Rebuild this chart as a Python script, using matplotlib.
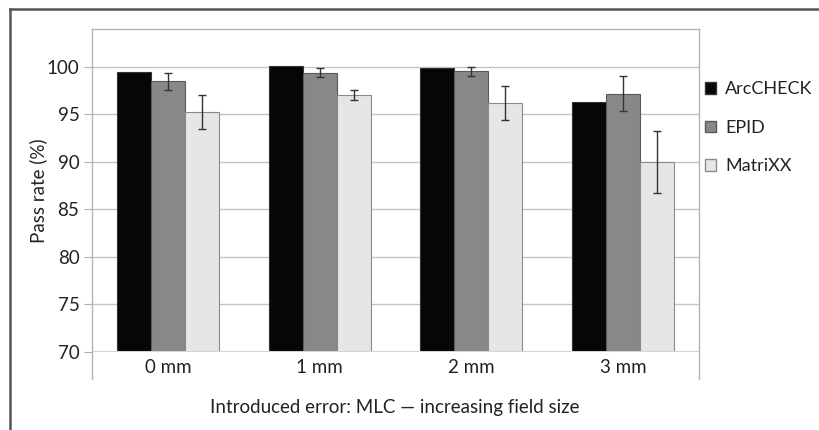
import numpy as np
import matplotlib.pyplot as plt
from matplotlib.lines import Line2D

plt.rcParams['font.family'] = ['Liberation Sans Narrow', 'Lato', 'DejaVu Sans']

# data
categories = ['0 mm', '1 mm', '2 mm', '3 mm']
series = ['ArcCHECK', 'EPID', 'MatriXX']
arccheck = [99.5, 100.1, 99.85, 96.3]
epid = [98.5, 99.4, 99.55, 97.2]
epid_err = [0.9, 0.5, 0.45, 1.8]
matrixx = [95.3, 97.05, 96.2, 90.0]
matrixx_err = [1.8, 0.55, 1.75, 3.3]
yticks = [70, 75, 80, 85, 90, 95, 100]

W, H = 819, 430
fig = plt.figure(figsize=(W / 100, H / 100), dpi=100)
ax = fig.add_axes([92 / W, 1 - 352 / H, (699 - 92) / W, (352 - 29) / H])

x = np.arange(len(categories))
w = 0.224
err_kw = dict(ecolor='#333333', elinewidth=1, capsize=3, capthick=1)
ax.bar(x - w, arccheck, w, color='#060606', edgecolor='#333333', linewidth=0.8, zorder=3)
ax.bar(x, epid, w, yerr=epid_err, color='#888888', edgecolor='#5a5a5a', linewidth=0.8,
       error_kw=err_kw, zorder=3)
ax.bar(x + w, matrixx, w, yerr=matrixx_err, color='#e6e6e6', edgecolor='#8a8a8a', linewidth=0.8,
       error_kw=err_kw, zorder=3)

ax.set_xlim(-0.5, 3.5)
ax.set_ylim(70, 104)
ax.set_yticks(yticks)
ax.set_xticks(x)
ax.set_xticklabels(categories)
ax.tick_params(axis='y', length=6, color='#b0b0b0', labelsize=13.5, pad=3, labelcolor='#222222')
ax.tick_params(axis='x', length=0, labelsize=13.5, pad=5, labelcolor='#222222')
for v in yticks[1:]:
    ax.axhline(v, color='#c4c4c4', lw=1, zorder=1)
ax.axhline(70, color='#d4d4d4', lw=2.2, zorder=4)
for s in ax.spines.values():
    s.set_visible(False)

ax.set_ylabel('Pass rate (%)', fontsize=13.5, color='#222222')
ax.yaxis.set_label_coords((47 - 92) / 607, 0.5)
fig.text(395 / W, 1 - 407 / H, 'Introduced error: MLC \u2014 increasing field size',
         ha='center', va='center', fontsize=13.5, color='#222222')

# plot-area box (open at the bottom) and outer frame
box = '#b4b4b4'
fig.add_artist(Line2D([92 / W, 699 / W], [1 - 29 / H] * 2, color=box, lw=1))
fig.add_artist(Line2D([92 / W] * 2, [1 - 29 / H, 1 - 379 / H], color=box, lw=1))
fig.add_artist(Line2D([699 / W] * 2, [1 - 29 / H, 1 - 379 / H], color=box, lw=1))
fig.add_artist(Line2D([10 / W, 1.0], [1 - 9 / H] * 2, color='#555555', lw=1.8))
fig.add_artist(Line2D([10 / W] * 2, [1 - 9 / H, 0.0], color='#555555', lw=1.8))

handles = [plt.Rectangle((0, 0), 1, 1, fc='#060606', ec='#333333'),
           plt.Rectangle((0, 0), 1, 1, fc='#888888', ec='#5a5a5a'),
           plt.Rectangle((0, 0), 1, 1, fc='#e6e6e6', ec='#8a8a8a')]
fig.legend(handles, series, loc='upper left', bbox_to_anchor=(689 / W, 1 - 65 / H),
           frameon=False, fontsize=13, handlelength=0.6, handleheight=0.6,
           handletextpad=0.5, labelspacing=1.25, labelcolor='#222222')

fig.savefig('out.png', dpi=100)
